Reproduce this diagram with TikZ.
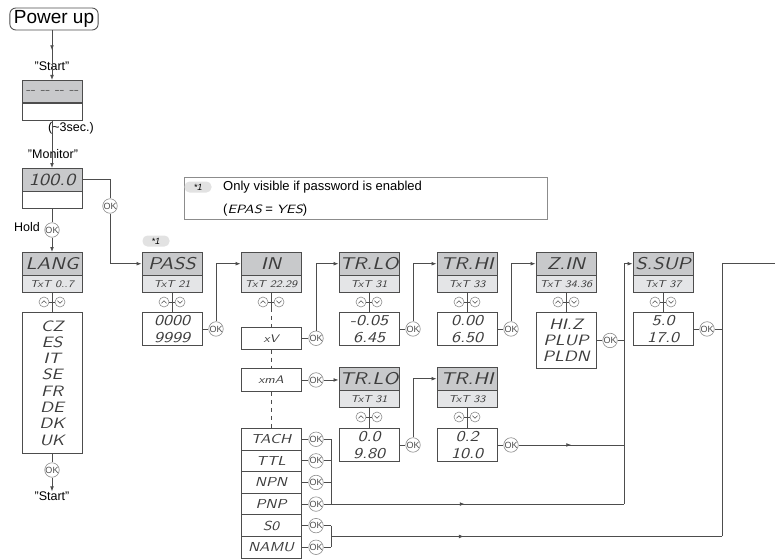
\documentclass[tikz,border=0pt]{standalone}
\usepackage{fontspec}
\setmainfont{Liberation Sans}
\newfontfamily\lcdfont{lmsans10-oblique.otf}[FakeStretch=1.2]
\usetikzlibrary{arrows.meta,positioning,decorations.markings}
\definecolor{linec}{HTML}{4D4D4D}
\definecolor{okc}{HTML}{8C8C8C}
\definecolor{titlec}{HTML}{C8C9CB}
\definecolor{subc}{HTML}{E4E5E7}
\definecolor{pillc}{HTML}{E2E2E2}
\definecolor{lcdc}{HTML}{3C3C3C}

\begin{document}
\begin{tikzpicture}[x=1pt,y=-1pt,
    >={Latex[length=5pt,width=3.8pt]},
    conn/.style={draw=linec,line width=0.8pt},
    mid/.style={postaction={decorate},decoration={markings,
        mark=at position #1 with {\arrow{>}}}},
    title/.style={draw=linec,fill=titlec,line width=0.9pt,minimum width=60pt,
        minimum height=22.5pt,inner sep=0pt,anchor=north,text=lcdc,
        font=\lcdfont\fontsize{17}{17}\selectfont},
    sub/.style={draw=linec,fill=subc,line width=0.9pt,minimum width=60pt,
        minimum height=16.5pt,inner sep=0pt,anchor=north,text=lcdc,
        font=\lcdfont\fontsize{10}{10}\selectfont},
    value/.style={draw=linec,fill=white,line width=0.9pt,minimum width=60pt,
        minimum height=33pt,inner sep=0pt,anchor=north,align=center,text=lcdc,
        font=\lcdfont\fontsize{15}{16.3}\selectfont},
    item/.style={value,minimum height=21.6pt,
        font=\lcdfont\fontsize{13}{13}\selectfont},
    ok/.style={circle,draw=okc,fill=white,line width=0.6pt,minimum size=14.5pt,
        inner sep=0pt,text=linec,font=\fontsize{9}{9}\selectfont},
    lbl/.style={font=\fontsize{12.5}{12.5}\selectfont,inner sep=0pt},
    pill/.style={fill=pillc,rounded corners=5pt,minimum width=27pt,
        minimum height=11pt,inner sep=0pt,font=\itshape\fontsize{9}{9}\selectfont},
    keys/.pic={
      \draw[okc,line width=0.6pt,fill=white] (-8,0) circle (5pt) (8,0) circle (5pt);
      \draw[linec,line width=0.6pt] (-10.5,1.3) -- (-8,-1.2) -- (-5.5,1.3)
        (5.5,-1.3) -- (8,1.2) -- (10.5,-1.3);
      \draw[linec,line width=0.8pt] (-3,0) -- (3,0);
    }]
    \useasboundingbox (0,0) rectangle (775,559);

    % power up and start
    \node[draw=linec,line width=0.9pt,rounded corners=6pt,inner xsep=4pt,
      inner ysep=1pt,minimum height=22pt,font=\fontsize{19}{19}\selectfont]
      (power) at (54,19) {Power up};
    \node[lbl] (lbl-start) at (52,66) {”Start”};
    \node[title] (start-t) at (52,80) {\fontsize{12}{12}\selectfont -{}- -{}- -{}- -{}-};
    \node[sub,fill=white] (start-s) at (start-t.south) {};
    \node[lbl,anchor=west] (lbl-sec) at (48,128) {(\textasciitilde3sec.)};
    \node[lbl] (lbl-mon) at (53,154) {”Monitor”};
    \node[title] (mon-t) at (52,168) {100.0};
    \node[sub,fill=white] (mon-s) at (mon-t.south) {};
    \node[ok] (mon-ok) at (110,206) {OK};
    \node[ok] (hold-ok) at (52,230) {OK};
    \node[lbl,anchor=east] (lbl-hold) at (40,227) {Hold};

    % note
    \node[draw=okc,line width=0.8pt,minimum width=363pt,minimum height=42pt,
      anchor=north west,inner sep=0pt] (note) at (184,177) {};
    \node[pill] (note-mark) at (198,187) {*1};
    \node[lbl,anchor=west,font=\fontsize{13}{13}\selectfont] (note-1) at (223,187)
      {Only visible if password is enabled};
    \node[lbl,anchor=west,font=\fontsize{13}{13}\selectfont] (note-2) at (223,210)
      {({\lcdfont\fontsize{12}{12}\selectfont EPAS} = {\lcdfont\fontsize{12}{12}\selectfont YES})};
    \node[pill] (pass-mark) at (156,241) {*1};

    % menu columns
    \foreach \n/\x/\y/\t/\s in {lang/52/252/LANG/{0..7},pass/172/252/PASS/21,
        in/271/252/IN/{22.29},trlo/369/252/TR.LO/31,trhi/467/252/TR.HI/33,
        zin/566/252/Z.IN/{34.36},ssup/663/252/S.SUP/37,
        trlob/369/367/TR.LO/31,trhib/467/367/TR.HI/33}{
      \node[title] (\n-t) at (\x,\y) {\t};
      \node[sub] (\n-s) at (\n-t.south) {TxT~\s};
      \pic at (\x,\y+50) {keys};
    }
    \node[value,minimum height=141pt] (lang-v) at (52,312)
      {CZ\\ES\\IT\\SE\\FR\\DE\\DK\\UK};
    \node[value] (pass-v) at (172,312) {0000\\9999};
    \node[value] (trlo-v) at (369,312) {-0.05\\6.45};
    \node[value] (trhi-v) at (467,312) {0.00\\6.50};
    \node[value,minimum height=56pt] (zin-v) at (566,312) {HI.Z\\PLUP\\PLDN};
    \node[value] (ssup-v) at (663,312) {5.0\\17.0};
    \node[value] (trlob-v) at (369,428) {0.0\\9.80};
    \node[value] (trhib-v) at (467,428) {0.2\\10.0};
    \foreach \n in {lang,pass,trlo,trhi,zin,ssup,trlob,trhib}
      \draw[conn] (\n-s) -- (\n-v);
    \foreach \n in {pass,trlo,trhi,zin,ssup,trlob,trhib}
      \node[ok,right=6pt of \n-v] (\n-ok) {OK};
    \node[ok] (lang-ok) at (52,470) {OK};
    \node[lbl] (lbl-start2) at (52,496) {”Start”};

    % input types
    \node[item,font=\lcdfont\fontsize{11}{11}\selectfont] (xv) at (271,327) {xV};
    \node[item,minimum height=23pt,font=\lcdfont\fontsize{11}{11}\selectfont]
      (xma) at (271,368) {xmA};
    \foreach \n/\t [count=\i] in {tach/TACH,ttl/TTL,npn/NPN,pnp/PNP,s0/S0,namu/NAMU}
      \node[item] (\n) at (271,{406.4+21.6*\i}) {\t};
    \foreach \n in {xv,xma,tach,ttl,npn,pnp,s0,namu}{
      \node[ok,right=7pt of \n] (\n-ok) {OK};
      \draw[conn] (\n) -- (\n-ok);
    }
    \draw[conn] (in-s.south) -- ++(0,15) coordinate (in-k);
    \draw[conn,dash pattern=on 4pt off 4pt] (in-k) -- (xv);
    \draw[conn,dash pattern=on 4pt off 4pt] (xv) -- (xma);
    \draw[conn,dash pattern=on 4pt off 4pt] (xma) -- (tach);

    % connectors
    \draw[conn,->,mid=0.4] (power.south -| start-t) -- (start-t.north);
    \draw[conn,->] (start-s) -- (mon-t);
    \draw[conn] (mon-t.east) -| (mon-ok);
    \draw[conn,->] (mon-ok) |- (pass-t);
    \draw[conn] (mon-s) -- (hold-ok);
    \draw[conn,->] (hold-ok) -- (lang-t);
    \draw[conn] (lang-v) -- (lang-ok);
    \draw[conn,->] (lang-ok) -- (lbl-start2);
    \foreach \n in {pass,trlo,trhi,zin,ssup,trlob,trhib}
      \draw[conn] (\n-v) -- (\n-ok);
    \draw[conn,->] (pass-ok) |- (in-t);
    \draw[conn,->] (xv-ok) |- (trlo-t);
    \draw[conn,->] (trlo-ok) |- (trhi-t);
    \draw[conn,->] (trhi-ok) |- (zin-t);
    \draw[conn,->] (xma-ok) -- (xma-ok -| trlob-t.west);
    \draw[conn,->] (trlob-ok) |- (trhib-t);

    % return lines
    \coordinate (busa) at (624,0);
    \coordinate (busb) at (722,0);
    \coordinate (bra) at (331,0);
    \coordinate (exit) at (775,263);
    \foreach \n in {tach,ttl,npn,s0,namu}
      \draw[conn] (\n-ok) -- (\n-ok -| bra);
    \draw[conn] (tach-ok -| bra) -- (pnp-ok -| bra);
    \draw[conn] (s0-ok -| bra) -- coordinate[midway] (brb) (namu-ok -| bra);
    \draw[conn,mid=0.47] (pnp-ok) -- (pnp-ok -| busa);
    \draw[conn,->] (pnp-ok -| busa) |- (ssup-t);
    \draw[conn] (zin-ok) -- (zin-ok -| busa);
    \draw[conn,mid=0.5] (trhib-ok) -- (trhib-ok -| busa);
    \draw[conn] (ssup-ok) -- (ssup-ok -| busb);
    \draw[conn,mid=0.34] (brb) -- (brb -| busb);
    \draw[conn] (brb -| busb) |- (exit);
\end{tikzpicture}
\end{document}
